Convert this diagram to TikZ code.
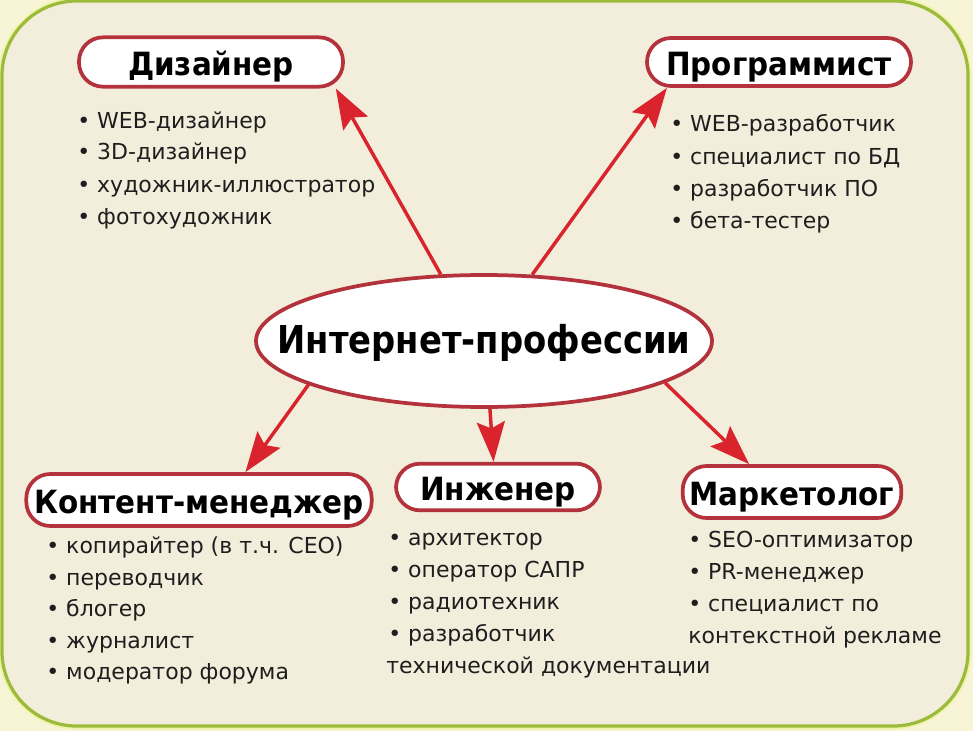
\documentclass[tikz,border=0pt]{standalone}
\usepackage{fontspec}
\setmainfont{DejaVu Sans}
\newfontfamily\hfont[FakeStretch=0.92]{DejaVu Sans}
\newfontfamily\cfont[FakeStretch=0.88]{DejaVu Sans}
\usetikzlibrary{arrows.meta,shapes.geometric}
\definecolor{outerbg}{HTML}{F7F5D6}
\definecolor{innerbg}{HTML}{F3EEDC}
\definecolor{framegreen}{HTML}{9DBB3A}
\definecolor{glow}{HTML}{EEF3A8}
\definecolor{boxred}{HTML}{B3323C}
\definecolor{arrred}{HTML}{D9232D}
\definecolor{txt}{HTML}{1E1E1E}
\tikzset{
  hbox/.style={draw=boxred, line width=2.8pt, fill=white, rounded corners=18pt,
    inner sep=0pt, text height=20.5pt, text depth=0pt,
    font=\hfont\bfseries\fontsize{24}{24}\selectfont, text=black},
  item/.style={anchor=base west, inner sep=0pt, text=txt,
    font=\fontsize{16.5}{20}\selectfont},
  arr/.style={draw=arrred, line width=2.6pt,
    -{Stealth[length=30pt,width=21pt,inset=5pt]}}
}
\newcommand\li[3]{\node[item] (#1) at (#2) {#3};}
\begin{document}
\begin{tikzpicture}[x=0.75pt,y=-0.75pt]
\useasboundingbox (0,0) rectangle (973,731);
\fill[outerbg] (0,0) rectangle (973,731);
\draw[glow, line width=5pt, rounded corners=56pt] (2,1) rectangle (968,726);
\draw[framegreen, fill=innerbg, line width=2.4pt, rounded corners=56pt] (2,1) rectangle (968,726);

% central ellipse
\node[ellipse, draw=boxred, line width=2.8pt, fill=white, minimum width=342pt,
  minimum height=99pt, inner sep=0pt] (c) at (484,341) {};
\node[font=\cfont\bfseries\fontsize{28.8}{29}\selectfont, inner sep=0pt] (ct) at (484,343) {Интернет-профессии};

% headings
\node[hbox, minimum width=198pt, minimum height=37pt] (dz) at (211,62) {Дизайнер};
\node[hbox, minimum width=198pt, minimum height=36pt] (pg) at (779,62) {Программист};
\node[hbox, minimum width=259pt, minimum height=39pt] (km) at (199,500) {Контент-менеджер};
\node[hbox, minimum width=153pt, minimum height=35pt] (ig) at (498,487) {Инженер};
\node[hbox, minimum width=164pt, minimum height=39pt] (mk) at (792,492) {Маркетолог};

% arrows
\draw[arr] (c.123) -- (dz.-12.4);
\draw[arr] (c.54) -- (pg.193);
\draw[arr] (c.194) -- (km.31);
\draw[arr] (c.275) -- (ig.100);
\draw[arr] (c.347) -- (mk.147);

% lists
\li{d1}{77,128}{• WEB-дизайнер}
\li{d2}{77,160}{• 3D-дизайнер}
\li{d3}{77,192}{• художник-иллюстратор}
\li{d4}{77,224}{• фотохудожник}

\li{p1}{670,132}{• WEB-разработчик}
\li{p2}{670,164}{• специалист по БД}
\li{p3}{670,196}{• разработчик ПО}
\li{p4}{670,228}{• бета-тестер}

\li{k1}{46,553}{• копирайтер (в т.ч. СЕО)}
\li{k2}{46,585}{• переводчик}
\li{k3}{46,616}{• блогер}
\li{k4}{46,648}{• журналист}
\li{k5}{46,679}{• модератор форума}

\li{i1}{388,545}{• архитектор}
\li{i2}{388,577}{• оператор САПР}
\li{i3}{388,609}{• радиотехник}
\li{i4}{388,641}{• разработчик}
\li{i5}{386,673}{технической документации}

\li{m1}{688,547}{• SEO-оптимизатор}
\li{m2}{688,579}{• PR-менеджер}
\li{m3}{688,611}{• специалист по}
\li{m4}{688,643}{контекстной рекламе}
\end{tikzpicture}
\end{document}
